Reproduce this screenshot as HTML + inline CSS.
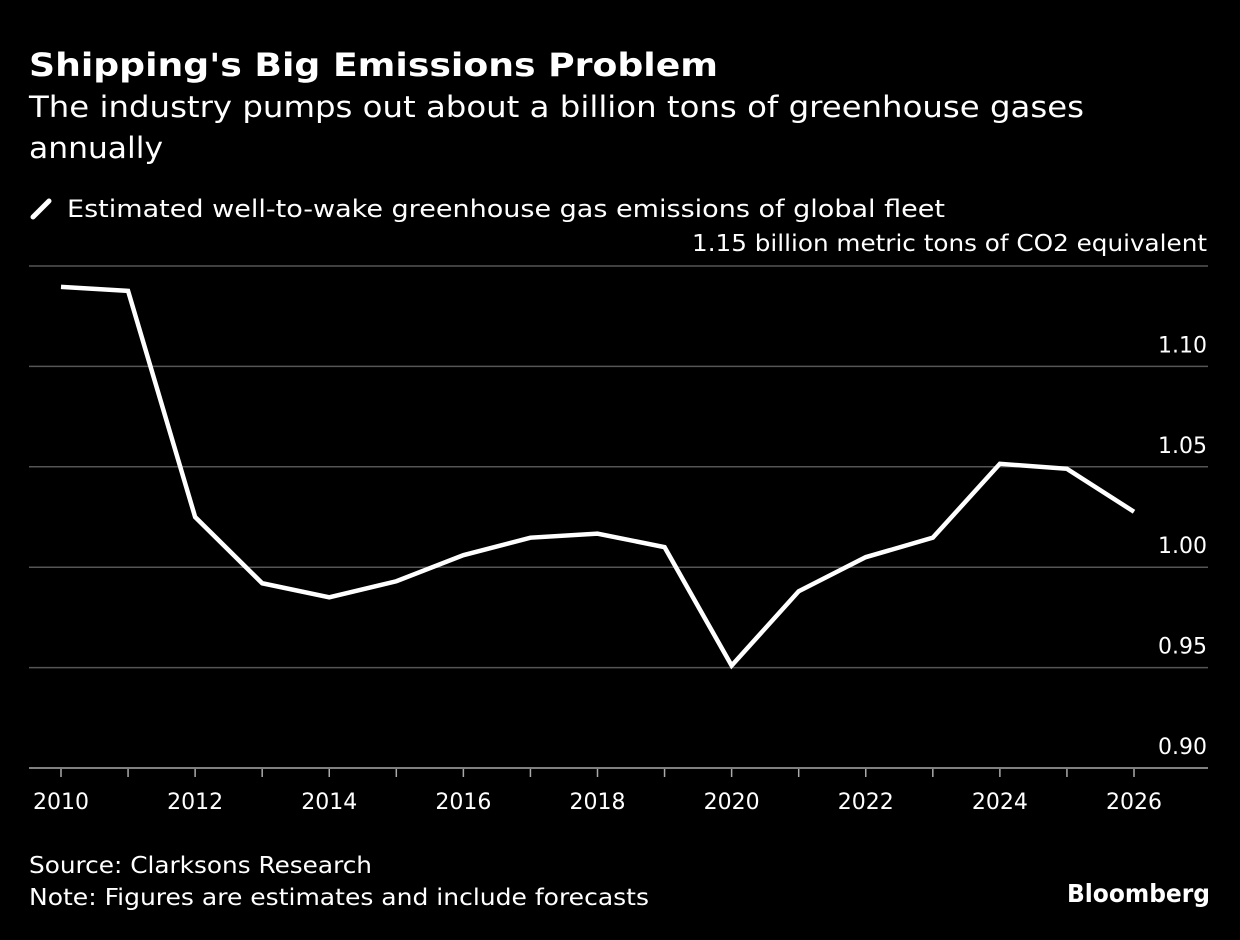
<!DOCTYPE html>
<html><head><meta charset="utf-8"><style>
body{margin:0;background:#000;width:1240px;height:936px;overflow:hidden;font-family:"DejaVu Sans","Liberation Sans",sans-serif;color:#fff}
svg text{font-family:"DejaVu Sans","Liberation Sans",sans-serif}
</style></head><body>
<svg width="1240" height="936" xmlns="http://www.w3.org/2000/svg">
<text x="29" y="76" font-size="32" font-weight="bold" fill="#fff" textLength="689" lengthAdjust="spacingAndGlyphs">Shipping's Big Emissions Problem</text>
<text x="29" y="117" font-size="29" fill="#fff" textLength="1055" lengthAdjust="spacingAndGlyphs">The industry pumps out about a billion tons of greenhouse gases</text>
<text x="29" y="158" font-size="29" fill="#fff" textLength="134" lengthAdjust="spacingAndGlyphs">annually</text>
<g>
<line x1="33" y1="217" x2="49" y2="201" stroke="#fff" stroke-width="5" stroke-linecap="round"/>
<text x="67" y="217" font-size="24" fill="#fff" textLength="878" lengthAdjust="spacingAndGlyphs">Estimated well-to-wake greenhouse gas emissions of global fleet</text>
</g>
<text x="1207" y="251" font-size="23" fill="#fff" text-anchor="end" textLength="515" lengthAdjust="spacingAndGlyphs">1.15 billion metric tons of CO2 equivalent</text>
<g id="grid"></g><g id="xaxis"></g>
<path id="line" fill="none" stroke="#fff" stroke-width="4.5" stroke-linejoin="miter"/>
<text x="29" y="873" font-size="23" fill="#fff" textLength="343" lengthAdjust="spacingAndGlyphs">Source: Clarksons Research</text>
<text x="29" y="905" font-size="23" fill="#fff" textLength="620" lengthAdjust="spacingAndGlyphs">Note: Figures are estimates and include forecasts</text>
<text x="1210" y="902" font-size="25" font-weight="bold" fill="#fff" text-anchor="end" textLength="143" lengthAdjust="spacingAndGlyphs">Bloomberg</text>
</svg>
<script>
const years=[2010,2011,2012,2013,2014,2015,2016,2017,2018,2019,2020,2021,2022,2023,2024,2025,2026];
const values=[1.1396,1.1376,1.025,0.992,0.985,0.993,1.006,1.0147,1.0167,1.010,0.951,0.988,1.005,1.0147,1.0515,1.049,1.0276];
const yTicks=[0.90,0.95,1.00,1.05,1.10,1.15];
const xLabels=[2010,2012,2014,2016,2018,2020,2022,2024,2026];
const NS="http://www.w3.org/2000/svg";
const x=v=>61+(v-2010)*(1134-61)/16;
const y=v=>768-(v-0.90)*(768-266)/0.25;
const grid=document.getElementById('grid');
yTicks.forEach(t=>{
 const l=document.createElementNS(NS,'line');
 l.setAttribute('x1',29);l.setAttribute('x2',1208);l.setAttribute('y1',y(t));l.setAttribute('y2',y(t));
 l.setAttribute('stroke',t===0.90?'#aaa':'#555');l.setAttribute('stroke-width',1.5);
 
 
 grid.appendChild(l);
 if(t<1.15){
 const tx=document.createElementNS(NS,'text');
 tx.setAttribute('x',1207);tx.setAttribute('y',y(t)-14);tx.setAttribute('text-anchor','end');
 tx.setAttribute('font-size',22);tx.setAttribute('fill','#fff');tx.textContent=t.toFixed(2);
 
 
 grid.appendChild(tx);}
});
const xa=document.getElementById('xaxis');
years.forEach(yr=>{
 const l=document.createElementNS(NS,'line');
 l.setAttribute('x1',x(yr));l.setAttribute('x2',x(yr));l.setAttribute('y1',769);l.setAttribute('y2',777);
 l.setAttribute('stroke','#aaa');l.setAttribute('stroke-width',1.5);
 
 
 xa.appendChild(l);
});
xLabels.forEach(yr=>{
 const tx=document.createElementNS(NS,'text');
 tx.setAttribute('x',x(yr));tx.setAttribute('y',809);tx.setAttribute('text-anchor','middle');
 tx.setAttribute('font-size',22);tx.setAttribute('fill','#fff');tx.textContent=yr;
 
 
 xa.appendChild(tx);
});
document.getElementById('line').setAttribute('d',years.map((yr,i)=>(i?'L':'M')+x(yr)+','+y(values[i])).join(''));
</script>
</body></html>
